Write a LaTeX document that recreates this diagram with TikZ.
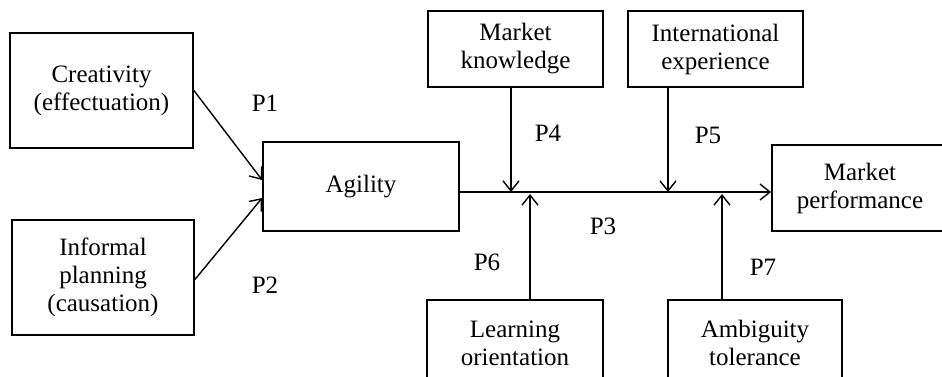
\documentclass[tikz,border=0pt]{standalone}
\usepackage{fontspec}
\setmainfont{Liberation Serif}
\usetikzlibrary{arrows.meta}

\begin{document}
\begin{tikzpicture}[x=0.5pt,y=-0.5pt,
		box/.style={draw, line width=0.9pt, align=center, inner sep=0pt, font=\fontsize{12.5}{14}\selectfont},
		plabel/.style={font=\fontsize{12.5}{14}\selectfont},
		arr/.style={-{Straight Barb[length=5pt,width=8pt]}, line width=0.7pt}]
				\fill[white] (0,0) rectangle (942,376);
				\clip (0,0) rectangle (942,376);

				\node[box, minimum width=91.5pt, minimum height=57.5pt] (crea) at (101.5,90.5) {Creativity\\(effectuation)};
				\node[box, minimum width=91pt, minimum height=57.5pt] (infp) at (103,277.5) {Informal\\planning\\(causation)};
				\node[box, minimum width=98pt, minimum height=44.5pt] (agil) at (361,186.5) {Agility};
				\node[box, minimum width=87.5pt, minimum height=38pt] (mkno) at (515.5,49) {Market\\knowledge};
				\node[box, minimum width=87.5pt, minimum height=38pt] (intx) at (715.5,49) {International\\experience};
				\node[box, minimum width=88pt, minimum height=43pt] (lrno) at (515,343) {Learning\\orientation};
				\node[box, minimum width=87pt, minimum height=43pt] (ambt) at (755,343) {Ambiguity\\tolerance};
				\node[box, minimum width=88pt, minimum height=43pt] (mprf) at (860,188) {Market\\performance};

				\coordinate (mk) at (511,192);
				\coordinate (ix) at (668,192);
				\coordinate (lo) at (530,194);
				\coordinate (at) at (722,194);

				\draw[arr] (crea.east) -- ([yshift=3.25pt]agil.west);
				\draw[arr] ([yshift=-1pt]infp.east) -- ([yshift=-5.75pt]agil.west);
				\draw[arr] ([yshift=-2.75pt]agil.east) -- ([yshift=-2pt]mprf.west);
				\draw[arr] (mkno.south -| mk) -- (mk);
				\draw[arr] (intx.south -| ix) -- (ix);
				\draw[arr] (lrno.north -| lo) -- (lo);
				\draw[arr] (ambt.north -| at) -- (at);

				\node[plabel] (p1) at (265,103) {P1};
				\node[plabel] (p2) at (265,285) {P2};
				\node[plabel] (p3) at (603,226) {P3};
				\node[plabel] (p4) at (548,133) {P4};
				\node[plabel] (p5) at (708,135) {P5};
				\node[plabel] (p6) at (487,262) {P6};
				\node[plabel] (p7) at (763,267) {P7};
			\end{tikzpicture}
\end{document}
